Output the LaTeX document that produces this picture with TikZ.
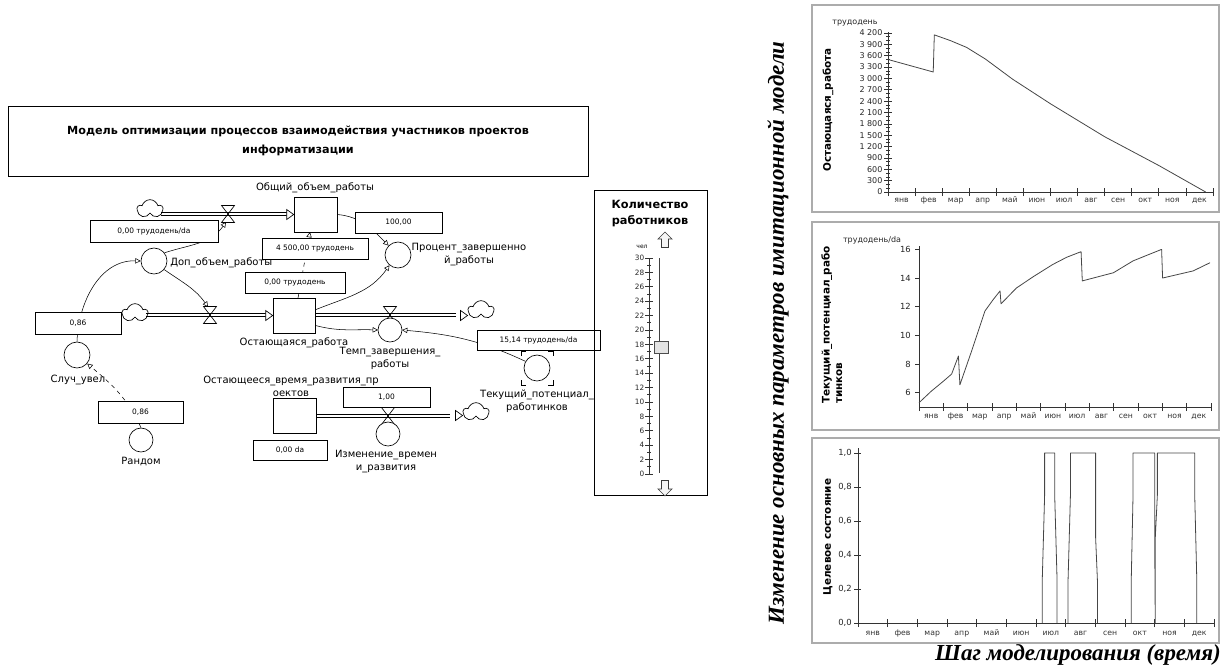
\documentclass[tikz,border=0pt]{standalone}
\usepackage{fontspec}
\setmainfont{DejaVu Sans}
\newfontfamily\capfont{Liberation Serif}
\usetikzlibrary{arrows.meta,shapes.symbols,calc}
\newcommand\fhead[1]{\draw[fill=white,line width=0.5pt] (#1) -- ++(-7,5) -- ++(0,-10) -- cycle;}
\newcommand\pipeline[2]{\draw[line width=0.5pt] ([yshift=1.3pt]#1) -- ([yshift=1.3pt]#2) ([yshift=-1.3pt]#1) -- ([yshift=-1.3pt]#2);}
\begin{document}
\begin{tikzpicture}[x=0.75pt,y=0.75pt,
  lbl/.style={font=\fontsize{7.5}{9.75}\selectfont, align=center, inner sep=0},
  vbox/.style 2 args={draw, fill=white, line width=0.5pt, font=\fontsize{5.6}{7}\selectfont, inner sep=0, minimum width=#1*0.75pt, minimum height=#2*0.75pt},
  stock/.style 2 args={draw, fill=white, line width=0.5pt, inner sep=0, minimum width=#1*0.75pt, minimum height=#2*0.75pt},
  auxc/.style={draw, fill=white, circle, line width=0.5pt, inner sep=0, minimum size=#1*0.75pt},
  cloudk/.style={cloud, draw, fill=white, cloud puffs=5, aspect=1.3, inner sep=0, minimum width=19pt, minimum height=14pt, line width=0.5pt},
  conn/.style={line width=0.4pt, -{Triangle[open,length=4pt,width=4pt]}},
  valve/.style={line width=0.5pt},
  frame/.style={draw=gray!65, line width=1.2pt},
  axis/.style={draw=gray!40!black, line width=0.5pt},
  tl/.style={font=\fontsize{6}{7}\selectfont, text=gray!30!black, inner sep=0},
  ml/.style={font=\fontsize{5.8}{7}\selectfont, text=gray!40!black, inner sep=0, text height=4.2pt, text depth=1.2pt},
  ytitle/.style={font=\bfseries\fontsize{7.8}{9.5}\selectfont, rotate=90, inner sep=0, align=left},
  data/.style={draw=gray!55!black, line width=0.6pt, line join=round},
  capf/.style={font=\capfont\bfseries\itshape\fontsize{17.2}{19}\selectfont, inner sep=0}
]
\useasboundingbox (0,0) rectangle (1223,-668);

% ---------- title ----------
\node[draw, line width=0.6pt, minimum width=580*0.75pt, minimum height=70*0.75pt, align=center,
      font=\bfseries\fontsize{8.4}{14}\selectfont] (tbox) at (298,-141)
  {Модель оптимизации процессов взаимодействия участников проектов\\информатизации};

% ---------- coordinates ----------
\coordinate (V1) at (228,-214);
\coordinate (V2) at (210,-315);
\coordinate (V3) at (390,-315);
\coordinate (V4) at (388,-416);
\coordinate (P1a) at (161,-214);
\coordinate (P1b) at (287,-214);
\coordinate (P2a) at (146,-315);
\coordinate (P2b) at (266,-315);
\coordinate (P3a) at (315,-315);
\coordinate (P3b) at (456,-315);
\coordinate (P4a) at (316,-416);
\coordinate (P4b) at (450,-416);

% ---------- stocks, circles ----------
\node[stock={43}{35}] (S1) at (315.5,-214.5) {};
\node[stock={42}{35}] (S2) at (294,-315.5) {};
\node[stock={43}{35}] (S3) at (294.5,-415.5) {};
\node[auxc=26] (Cdop) at (154,-261) {};
\node[auxc=26] (Csl) at (77,-355) {};
\node[auxc=24] (Crand) at (141,-440) {};
\node[auxc=26] (Cproc) at (398,-255) {};
\node[auxc=26] (Ctek) at (537,-368) {};

% ---------- connectors ----------
\coordinate (S2top) at (298,-298);
\coordinate (S1bot) at (310,-232);
\draw[conn] (Cdop.38) to[out=18,in=-125] ([shift={(-2,-8)}]V1);
\draw[conn] (Cdop.-40) to[out=-35,in=125] ([shift={(-2,8)}]V2);
\draw[conn] (Csl.north) to[out=88,in=178] (Cdop.west);
\draw[conn, dashed] (Crand.north) to[out=115,in=-40] (Csl.-40);
\draw[conn] (S1.east) to[out=-5,in=135] (Cproc.135);
\draw[conn] (S2.15) to[out=22,in=-125] (Cproc.-130);
\draw[conn, dashed] (S2top) -- (S1bot);
\draw[conn] (S2.-25) to[out=-15,in=178] ($(V3)+(-12,-15)$);
\draw[conn] (Ctek.150) to[out=155,in=-5] ($(V3)+(12,-15)$);

% ---------- clouds ----------
\node[cloudk] (K1) at (150,-209) {};
\node[cloudk] (K2) at (135,-313) {};
\node[cloudk] (K3) at (481,-310) {};
\node[cloudk] (K4) at (476,-412) {};

% ---------- pipes ----------
\pipeline{P1a}{P1b} \fhead{S1.west}
\pipeline{P2a}{P2b} \fhead{S2.west}
\pipeline{P3a}{P3b} \fhead{K3.west |- S2.east}
\pipeline{P4a}{P4b} \fhead{K4.west |- S3.east}

% ---------- valves ----------
\foreach \v in {V1,V2,V3,V4}
  \draw[valve] (\v) ++(-6.5,8.5) -- ++(13,0) -- ++(-13,-17) -- ++(13,0) -- cycle;
\node[auxc=24] (Ctemp) at (390,-330) {};
\node[auxc=24] (Cizm) at (388,-434) {};

% ghost brackets
\draw[line width=0.5pt] ([shift={(-16,12)}]Ctek.center) -- ++(0,5) -- ++(5,0);
\draw[line width=0.5pt] ([shift={(11,17)}]Ctek.center) -- ++(5,0) -- ++(0,-5);
\draw[line width=0.5pt] ([shift={(-16,-12)}]Ctek.center) -- ++(0,-5) -- ++(5,0);
\draw[line width=0.5pt] ([shift={(11,-17)}]Ctek.center) -- ++(5,0) -- ++(0,5);

% ---------- value boxes ----------
\node[vbox={128}{22}] (B1) at (154,-231) {0,00 трудодень/da};
\node[vbox={106}{21}] (B2) at (315,-248.5) {4 500,00 трудодень};
\node[vbox={100}{21}] (B3) at (295,-282.5) {0,00 трудодень};
\node[vbox={86}{22}] (B4) at (78,-323) {0,86};
\node[vbox={85}{22}] (B5) at (140.5,-412) {0,86};
\node[vbox={87}{21}] (B6) at (398.5,-222.5) {100,00};
\node[vbox={123}{20}] (B7) at (538.5,-340) {15,14 трудодень/da};
\node[vbox={87}{20}] (B8) at (386.5,-397) {1,00};
\node[vbox={74}{20}] (B9) at (290,-450) {0,00 da};

% ---------- labels ----------
\node[lbl] (L1) at (315,-188) {Общий\_объем\_работы};
\node[lbl, anchor=west] (L2) at (170,-263) {Доп\_объем\_работы};
\node[lbl] (L3) at (469,-255) {Процент\_завершенно\\й\_работы};
\node[lbl] (L4) at (294,-343) {Остающаяся\_работа};
\node[lbl] (L5) at (390,-358.5) {Темп\_завершения\_\\работы};
\node[lbl] (L6) at (537,-401.5) {Текущий\_потенциал\_\\работинков};
\node[lbl] (L7) at (78,-380) {Случ\_увел};
\node[lbl] (L8) at (141,-462) {Рандом};
\node[lbl] (L9) at (291,-386) {Остающееся\_время\_развития\_пр\\оектов};
\node[lbl] (L10) at (386,-461.5) {Изменение\_времен\\и\_развития};

% ---------- slider panel ----------
\node[draw, line width=0.6pt, minimum width=113*0.75pt, minimum height=305*0.75pt, inner sep=0] (panel) at (650.5,-342.5) {};
\node[font=\bfseries\fontsize{8.5}{12.5}\selectfont, align=center, inner sep=0] (ptitle) at (650,-213.5) {Количество\\работников};
\coordinate (UA) at (665,-240);
\coordinate (DA) at (665,-488);
\draw[draw=gray!45!black, fill=gray!8, line width=0.5pt] (UA) ++(0,8) -- ++(7,-7) -- ++(-3.5,0) -- ++(0,-8.5) -- ++(-7,0) -- ++(0,8.5) -- ++(-3.5,0) -- cycle;
\draw[draw=gray!45!black, fill=gray!8, line width=0.5pt] (DA) ++(0,-8) -- ++(7,7) -- ++(-3.5,0) -- ++(0,8.5) -- ++(-7,0) -- ++(0,-8.5) -- ++(-3.5,0) -- cycle;
\node[font=\fontsize{4.5}{5}\selectfont, inner sep=0] (chel) at (642,-247) {чел};
\draw[axis] (649,-258) -- (649,-474);
\foreach \v in {0,2,...,30} {
  \draw[axis] (645,{-474+\v*7.2}) -- (653,{-474+\v*7.2});
  \node[tl, anchor=east, font=\fontsize{5.5}{6}\selectfont] (sl\v) at (644.5,{-474+\v*7.2}) {\v};
}
\foreach \v in {1,3,...,29}
  \draw[axis] (647,{-474+\v*7.2}) -- (651,{-474+\v*7.2});
\draw[draw=gray!50!black, line width=0.7pt] (659,-258) -- (659,-473);
\node[draw=gray!60!black, fill=gray!22, minimum width=14*0.75pt, minimum height=12*0.75pt, inner sep=0, line width=0.5pt] (knob) at (661,-347) {};

% ---------- chart 1 ----------
\draw[frame] (812,-5) rectangle (1219,-212);
\node[tl] (u1) at (855,-23) {трудодень};
\node[ytitle] (t1) at (828,-110) {Остающаяся\_работа};
\begin{scope}[shift={(888,-192)}, x=20.31pt, y=0.0284pt]
  \draw[axis] (0,0) -- (12,0);
  \draw[axis] (0,0) -- (0,4230);
  \foreach \v in {100,200,...,4200} \draw[axis] (0,\v) ++(-1.5pt,0) -- ++(3pt,0);
  \foreach \v/\t in {0/0,300/300,600/600,900/900,1200/1~200,1500/1~500,1800/1~800,2100/2~100,2400/2~400,2700/2~700,3000/3~000,3300/3~300,3600/3~600,3900/3~900,4200/4~200} {
    \draw[axis] (0,\v) ++(-3pt,0) -- ++(6pt,0);
    \node[tl, anchor=east] (ya\v) at ([xshift=-4pt]0,\v) {\t};
  }
  \foreach \m in {0,...,12} \draw[axis] (\m,0) ++(0,-3pt) -- ++(0,6pt);
  \foreach \n [count=\i] in {янв,фев,мар,апр,май,июн,июл,авг,сен,окт,ноя,дек}
    \node[ml, yshift=-6.5pt] (ma\i) at ({\i-0.5},0) {\n};
  \draw[data] (0,3500) -- (1.67,3170) -- (1.71,4150) -- (2.3,4000) -- (2.9,3820) -- (3.6,3510) -- (4.6,2980) -- (6,2330) -- (8,1460) -- (10,700) -- (11.73,0);
\end{scope}

% ---------- chart 2 ----------
\draw[frame] (812,-222) rectangle (1219,-430);
\node[tl] (u2) at (872,-240) {трудодень/da};
\node[ytitle, anchor=north west] (t2) at (821,-404) {Текущий\_потенциал\_рабо\\тинков};
\begin{scope}[shift={(919,-478.7)}, x=18.25pt, y=10.75pt]
  \draw[axis] (0,5) -- (12,5);
  \draw[axis] (0,5) -- (0,16.25);
  \foreach \v in {6,8,...,16} {
    \draw[axis] (0,\v) ++(-3pt,0) -- ++(3.5pt,0);
    \node[tl, anchor=east, font=\fontsize{6.3}{7}\selectfont] (yb\v) at ([xshift=-6pt]0,\v) {\v};
  }
  \foreach \m in {0,...,12} \draw[axis] (\m,5) ++(0,-3pt) -- ++(0,6pt);
  \foreach \n [count=\i] in {янв,фев,мар,апр,май,июн,июл,авг,сен,окт,ноя,дек}
    \node[ml, yshift=-7pt] (mb\i) at ({\i-0.5},5) {\n};
  \draw[data] (0,5.3) -- (0.5,6.1) -- (1.0,6.8) -- (1.34,7.3) -- (1.62,8.56) -- (1.68,6.55) -- (2.16,8.9) -- (2.71,11.7) -- (3.05,12.5) -- (3.33,13.1) -- (3.37,12.2) -- (4.0,13.3) -- (4.7,14.1) -- (5.5,14.95) -- (6.07,15.45) -- (6.66,15.84) -- (6.71,13.8) -- (7.99,14.37) -- (8.8,15.2) -- (9.97,16.0) -- (10.01,14.0) -- (11.27,14.5) -- (11.96,15.07);
\end{scope}

% ---------- chart 3 ----------
\draw[frame] (812,-438) rectangle (1219,-643);
\node[ytitle] (t3) at (828,-537) {Целевое состояние};
\begin{scope}[shift={(858,-623)}, x=22.25pt, y=127.5pt]
  \draw[axis] (0,0) -- (12,0);
  \draw[axis] (0,0) -- (0,1.03);
  \foreach \v/\t in {0/0,0.2/2,0.4/4,0.6/6,0.8/8} {
    \draw[axis] (0,\v) ++(-3pt,0) -- ++(5pt,0);
    \node[tl, anchor=east, font=\fontsize{6.3}{7}\selectfont] (yc\t) at ([xshift=-4.5pt]0,\v) {0,\t};
  }
  \draw[axis] (0,1) ++(-3pt,0) -- ++(5pt,0);
  \node[tl, anchor=east, font=\fontsize{6.3}{7}\selectfont] (yc10) at ([xshift=-4.5pt]0,1) {1,0};
  \foreach \m in {0,...,12} \draw[axis] (\m,0) ++(0,-3pt) -- ++(0,6pt);
  \foreach \n [count=\i] in {янв,фев,мар,апр,май,июн,июл,авг,сен,окт,ноя,дек}
    \node[ml, yshift=-7.5pt] (mc\i) at ({\i-0.5},0) {\n};
  \draw[data] (6.21,0) -- (6.21,0.25) -- (6.29,0.75) -- (6.29,1) -- (6.63,1) -- (6.63,0.75) -- (6.71,0.25) -- (6.71,0)
    (7.08,0) -- (7.08,0.25) -- (7.16,0.75) -- (7.16,1) -- (8.01,1) -- (8.01,0.5) -- (8.07,0.25) -- (8.07,0)
    (9.21,0) -- (9.21,0.25) -- (9.27,0.75) -- (9.27,1) -- (10.0,1) -- (10.0,0.5) -- (10.02,0) -- (10.02,0.5) -- (10.09,0.75) -- (10.09,1) -- (11.35,1) -- (11.35,0.75) -- (11.42,0.25) -- (11.42,0);
\end{scope}

% ---------- captions ----------
\node[capf, rotate=90] (vcap) at (778,-333) {Изменение основных параметров имитационной модели};
\node[capf, anchor=east] (hcap) at (1221,-655) {Шаг моделирования (время)};
\end{tikzpicture}
\end{document}
